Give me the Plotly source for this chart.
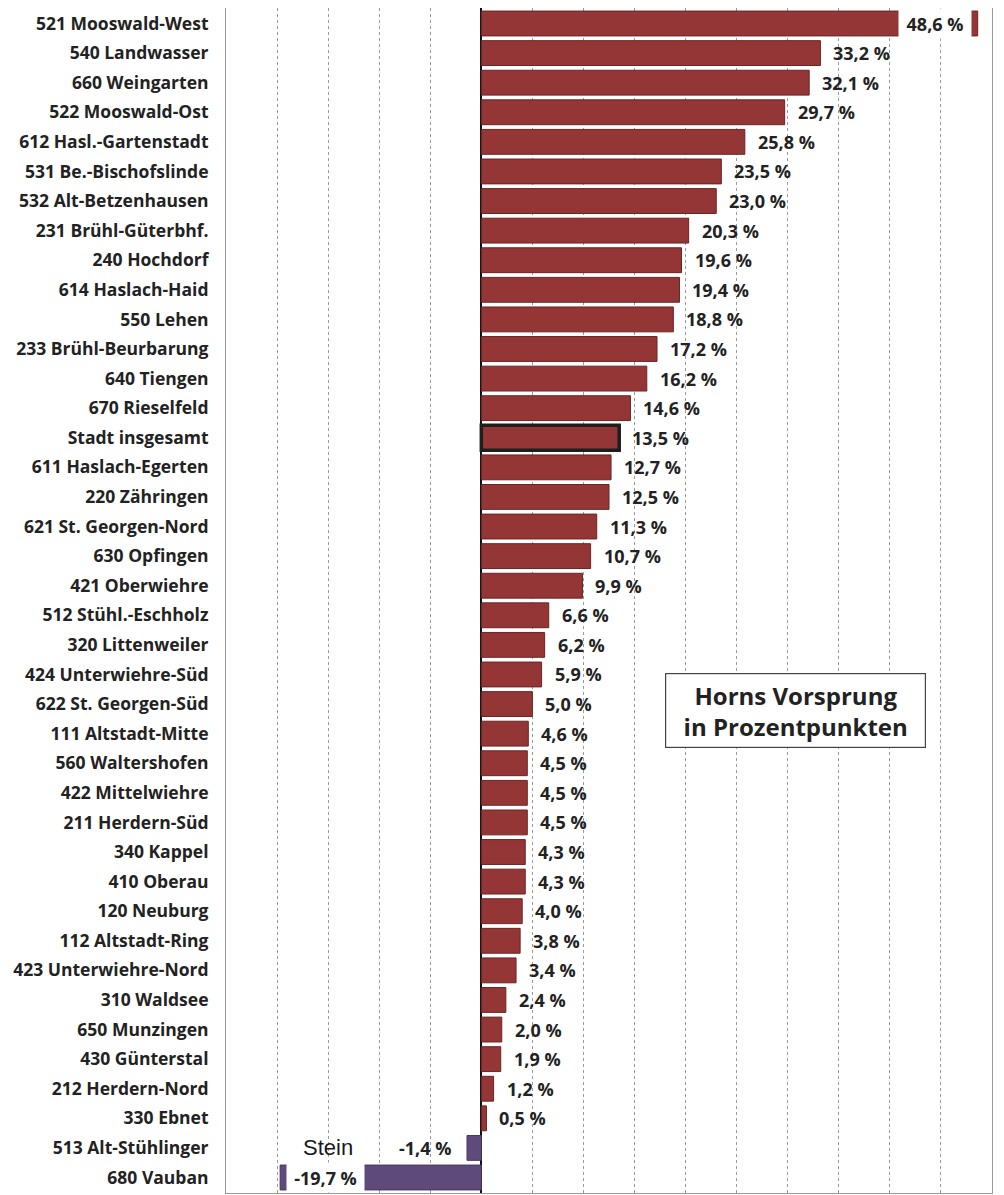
import plotly.graph_objects as go

categories = [
    "521 Mooswald-West", "540 Landwasser", "660 Weingarten", "522 Mooswald-Ost",
    "612 Hasl.-Gartenstadt", "531 Be.-Bischofslinde", "532 Alt-Betzenhausen",
    "231 Brühl-Güterbhf.", "240 Hochdorf", "614 Haslach-Haid", "550 Lehen",
    "233 Brühl-Beurbarung", "640 Tiengen", "670 Rieselfeld", "Stadt insgesamt",
    "611 Haslach-Egerten", "220 Zähringen", "621 St. Georgen-Nord", "630 Opfingen",
    "421 Oberwiehre", "512 Stühl.-Eschholz", "320 Littenweiler", "424 Unterwiehre-Süd",
    "622 St. Georgen-Süd", "111 Altstadt-Mitte", "560 Waltershofen", "422 Mittelwiehre",
    "211 Herdern-Süd", "340 Kappel", "410 Oberau", "120 Neuburg", "112 Altstadt-Ring",
    "423 Unterwiehre-Nord", "310 Waldsee", "650 Munzingen", "430 Günterstal",
    "212 Herdern-Nord", "330 Ebnet", "513 Alt-Stühlinger", "680 Vauban",
]
values = [
    48.6, 33.2, 32.1, 29.7, 25.8, 23.5, 23.0, 20.3, 19.6, 19.4, 18.8, 17.2, 16.2,
    14.6, 13.5, 12.7, 12.5, 11.3, 10.7, 9.9, 6.6, 6.2, 5.9, 5.0, 4.6, 4.5, 4.5,
    4.5, 4.3, 4.3, 4.0, 3.8, 3.4, 2.4, 2.0, 1.9, 1.2, 0.5, -1.4, -19.7,
]
total_label = "Stadt insgesamt"
x_range = [-25, 50]
stein_label = "Stein"
stein_x = -15
box_text = "Horns Vorsprung<br>in Prozentpunkten"

RED = "#943636"
RED_EDGE = "#6b2424"
PURPLE = "#5f4a7c"
PURPLE_EDGE = "#463660"
TXT = "#222222"
FONT = "Open Sans"

colors = [RED if v >= 0 else PURPLE for v in values]
edge_colors = ["#1e1e1e" if c == total_label else (RED_EDGE if v >= 0 else PURPLE_EDGE)
               for c, v in zip(categories, values)]
edge_widths = [3.5 if c == total_label else 1 for c in categories]

fig = go.Figure()
fig.add_trace(go.Bar(
    x=values, y=categories, orientation="h",
    marker=dict(color=colors, line=dict(color=edge_colors, width=edge_widths)),
    hoverinfo="skip",
))

def fmt(v):
    return ("%.1f" % v).replace(".", ",") + " %"

lab_font = dict(family=FONT, size=18, color=TXT, weight="bold")
annotations = []
x_max = x_range[1]
for c, v in zip(categories, values):
    t = fmt(v)
    if v > x_max - 5:
        # label placed inside a white break of the bar
        annotations.append(dict(x=v, y=c, text=t, showarrow=False, xanchor="right",
                                xshift=-6, bgcolor="white", width=70, height=27,
                                borderpad=1, font=lab_font))
    elif v < -10:
        annotations.append(dict(x=v, y=c, text=t, showarrow=False, xanchor="left",
                                xshift=6, bgcolor="white", width=75, height=27,
                                borderpad=1, font=lab_font))
    elif v < 0:
        annotations.append(dict(x=v, y=c, text=t, showarrow=False, xanchor="right",
                                xshift=-14, font=lab_font))
    else:
        annotations.append(dict(x=v, y=c, text=t, showarrow=False, xanchor="left",
                                xshift=11, font=lab_font))

annotations.append(dict(x=stein_x, y=categories[-2], text=stein_label, showarrow=False,
                        xanchor="center", yanchor="middle",
                        font=dict(family="Liberation Sans", size=22, color="#1a1a1a")))
annotations.append(dict(xref="paper", yref="paper", x=0.7435, y=0.4072, text=box_text,
                        xanchor="center", yanchor="middle",
                        showarrow=False, align="center", width=259, height=73,
                        borderpad=0, bordercolor="#444444", borderwidth=1.2,
                        bgcolor="white",
                        font=dict(family=FONT, size=24, color=TXT, weight="bold")))

# the page body adds an 8 px offset, so the figure is sized to compensate
fig.update_layout(
    width=996, height=1187,
    margin=dict(l=218, r=12, t=0, b=2),
    paper_bgcolor="white", plot_bgcolor="white",
    showlegend=False, bargap=0.16,
    annotations=annotations,
    xaxis=dict(range=x_range, dtick=5, tick0=0, showgrid=True, gridcolor="#9a9a9a",
               gridwidth=1, griddash="dot", zeroline=True, zerolinecolor="#111111",
               zerolinewidth=1.5, showticklabels=False, ticks="", showline=True,
               linecolor="#999999", linewidth=1, mirror=True, fixedrange=True,
               automargin=False),
    yaxis=dict(categoryorder="array", categoryarray=categories, autorange="reversed",
               showgrid=False, ticks="", showline=True, linecolor="#999999",
               linewidth=1, mirror=True, ticklabelstandoff=13, automargin=False,
               tickfont=dict(family=FONT, size=17.5, color=TXT, weight="bold")),
)

fig.write_html("out.html")
